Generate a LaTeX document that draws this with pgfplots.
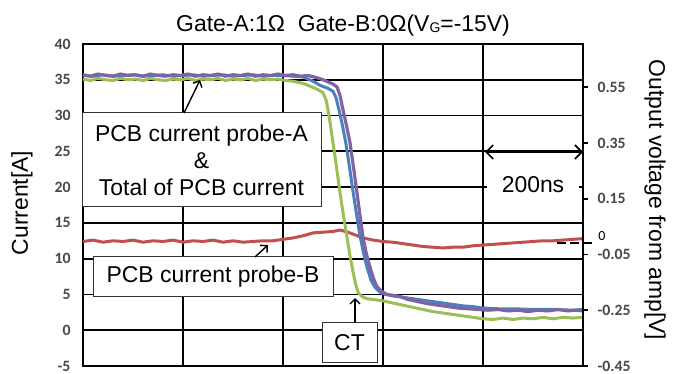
\documentclass[border=0pt]{standalone}
\usepackage{pgfplots}
\pgfplotsset{compat=1.18}
\usepackage{fontspec}
\setmainfont{Liberation Sans}
\newfontfamily\tickfont{Carlito}
\usetikzlibrary{arrows.meta}
\definecolor{cpurple}{RGB}{128,100,162}
\definecolor{cblue}{RGB}{74,128,192}
\definecolor{cgreen}{RGB}{155,190,85}
\definecolor{cred}{RGB}{192,80,77}
\begin{document}
\begin{tikzpicture}
\begin{axis}[
  at={(0,0)}, anchor=south west,
  scale only axis, width=500bp, height=322bp,
  xmin=0, xmax=1000, ymin=-5, ymax=40,
  xtick={0,200,400,600,800,1000}, xticklabels={},
  ytick={-5,0,5,10,15,20,25,30,35,40},
  yticklabels={-5,0,5,10,15,20,25,30,35,40},
  grid=major, grid style={black, line width=1.8bp},
  axis line style={black, line width=2bp},
  major tick length=0pt,
  /pgf/number format/assume math mode=true,
  tick label style={font=\tickfont\bfseries\fontsize{15.8}{17}\selectfont, text=black!72},
  y tick label style={xshift=-9bp},
  clip=false,
]
\addplot[cred, line width=3bp] coordinates {
(0,12.4)(20,12.6)(40,12.3)(60,12.5)(80,12.4)(100,12.6)(120,12.3)(140,12.5)(160,12.4)(180,12.6)(200,12.3)(220,12.5)(240,12.4)(260,12.6)(280,12.3)(300,12.5)(320,12.3)(340,12.4)(360,12.5)(380,12.5)(400,12.7)(420,12.9)(440,13.2)(460,13.6)(480,13.7)(500,13.8)(514,14.0)(530,13.7)(545,13.3)(560,12.9)(580,12.6)(600,12.4)(620,12.3)(640,12.1)(660,11.9)(680,11.7)(700,11.6)(720,11.5)(740,11.6)(760,11.6)(780,11.8)(800,11.9)(820,12.0)(840,12.1)(860,12.2)(880,12.3)(900,12.4)(920,12.5)(940,12.5)(960,12.6)(980,12.7)(1000,12.8)
};
\addplot[cgreen, line width=3bp] coordinates {
(0,35.1)(15,34.9)(30,35.2)(45,35.0)(60,34.9)(75,35.2)(90,35.0)(105,35.1)(120,34.9)(135,35.2)(150,35.0)(165,34.9)(180,35.1)(195,35.0)(210,35.2)(225,34.9)(240,35.1)(255,35.0)(270,35.2)(285,34.9)(300,35.1)(315,35.0)(330,35.2)(345,34.9)(360,35.1)(375,35.0)(390,35.1)(405,34.9)(420,34.8)(440,34.5)(454,34.1)(468,33.7)(480,33.2)(486,32.2)(490,30.8)(495,28.6)(500,26.2)(507,22.8)(514,19.2)(521,16.0)(528,13.0)(534,10.4)(540,8.2)(545,6.5)(550,5.3)(558,4.7)(568,4.4)(580,4.3)(600,4.1)(620,3.8)(640,3.5)(660,3.2)(680,2.9)(700,2.6)(720,2.4)(740,2.2)(760,2.0)(780,1.8)(800,1.6)(820,1.5)(840,1.7)(860,1.5)(880,1.7)(900,1.6)(920,1.8)(940,1.6)(960,1.8)(980,1.7)(1000,1.8)
};
\addplot[cblue, line width=3bp] coordinates {
(0,35.6)(20,35.5)(40,35.7)(60,35.5)(80,35.6)(100,35.7)(120,35.5)(140,35.6)(160,35.7)(180,35.5)(200,35.6)(220,35.7)(240,35.5)(260,35.6)(280,35.7)(300,35.5)(320,35.6)(340,35.7)(360,35.5)(380,35.6)(400,35.6)(420,35.5)(440,35.4)(460,34.8)(475,34.2)(490,33.8)(500,33.4)(506,32.5)(512,30.8)(519,28.6)(526,26.0)(533,22.8)(540,19.4)(547,16.2)(554,13.2)(561,10.8)(568,8.8)(576,7.0)(584,6.0)(594,5.3)(605,5.0)(620,4.9)(640,4.6)(660,4.4)(680,4.2)(700,4.0)(720,3.8)(740,3.6)(760,3.4)(780,3.3)(800,3.1)(830,3.0)(860,3.0)(900,2.9)(940,2.9)(980,2.8)(1000,2.9)
};
\addplot[cpurple, line width=3.2bp] coordinates {
(0,35.7)(15,35.5)(30,35.8)(45,35.6)(60,35.5)(75,35.8)(90,35.6)(105,35.7)(120,35.5)(135,35.8)(150,35.6)(165,35.5)(180,35.7)(195,35.6)(210,35.8)(225,35.5)(240,35.7)(255,35.6)(270,35.8)(285,35.5)(300,35.7)(315,35.6)(330,35.8)(345,35.5)(360,35.7)(375,35.6)(390,35.8)(405,35.6)(420,35.7)(435,35.5)(450,35.6)(462,35.4)(472,35.2)(480,35.0)(490,34.7)(500,34.4)(508,34.0)(514,32.8)(520,30.8)(527,28.6)(534,26.2)(541,22.8)(548,19.2)(554,16.0)(560,13.0)(567,10.6)(574,8.8)(581,7.2)(588,6.1)(598,5.4)(608,5.0)(620,4.8)(634,4.7)(650,4.3)(670,4.0)(690,3.7)(710,3.5)(730,3.3)(750,3.1)(770,3.0)(790,2.9)(810,2.8)(830,2.9)(850,2.7)(870,2.8)(890,2.6)(910,2.8)(930,2.7)(950,2.9)(970,2.7)(985,2.8)(1000,2.7)
};
\end{axis}
\begin{axis}[
  at={(0,0)}, anchor=south west,
  scale only axis, width=500bp, height=322bp,
  xmin=0, xmax=1000, ymin=-0.45, ymax=0.705,
  axis x line=none, axis y line*=right,
  ytick={-0.45,-0.25,-0.05,0.15,0.35,0.55},
  yticklabels={-0.45,-0.25,-0.05,0.15,0.35,0.55},
  tick align=outside, major tick length=5bp,
  tick style={black, line width=1.6bp},
  axis line style={black, line width=2bp},
  /pgf/number format/assume math mode=true,
  tick label style={font=\tickfont\bfseries\fontsize{15.8}{17}\selectfont, text=black!72},
  y tick label style={xshift=6bp},
]
\end{axis}
% annotations (canvas bp, origin at lower-left of plot area)
\begin{scope}[x=1bp,y=1bp, font=\fontsize{23}{27}\selectfont]
\fill[white] (404,151) rectangle (496,208);
\node at (450,181) {200ns};
\draw[line width=1.6bp, {Straight Barb[length=7bp,width=14bp]}-{Straight Barb[length=7bp,width=14bp]}] (402,214) -- (500,214);
\draw[line width=1bp, black!80, fill=white] (-1,159) rectangle (238,253);
\node[align=center] at (118.5,206) {PCB current probe-A\\\&\\Total of PCB current};
\draw[line width=1.4bp, -{Straight Barb[length=5bp,width=10bp]}] (101,253) -- (117,286);
\draw[line width=1bp, black!80, fill=white] (10,69) rectangle (250,109);
\node at (130,89) {PCB current probe-B};
\draw[line width=1.4bp, -{Straight Barb[length=5bp,width=10bp]}] (172,109) -- (185,121);
\draw[line width=1bp, black!80, fill=white] (239,4) rectangle (294,43);
\node at (266.5,23.5) {CT};
\draw[line width=1.4bp, -{Straight Barb[length=5bp,width=10bp]}] (272,43) -- (272,68);
\draw[line width=1.8bp, dash pattern=on 9bp off 4bp] (474,123) -- (513,123);
\node[font=\tickfont\fontsize{14}{14}\selectfont] at (519,130) {0};
\node[anchor=base] at (260,335) {Gate-A:1Ω\ \ Gate-B:0Ω(V\raisebox{-1bp}{\fontsize{14}{14}\selectfont G}=-15V)};
\node[rotate=90] at (-61,163) {Current[A]};
\node[rotate=-90] at (572,166) {Output voltage from amp[V]};
\end{scope}
\pgfresetboundingbox
\useasboundingbox (-83bp,-8bp) rectangle (592bp,366bp);
\end{tikzpicture}
\end{document}
